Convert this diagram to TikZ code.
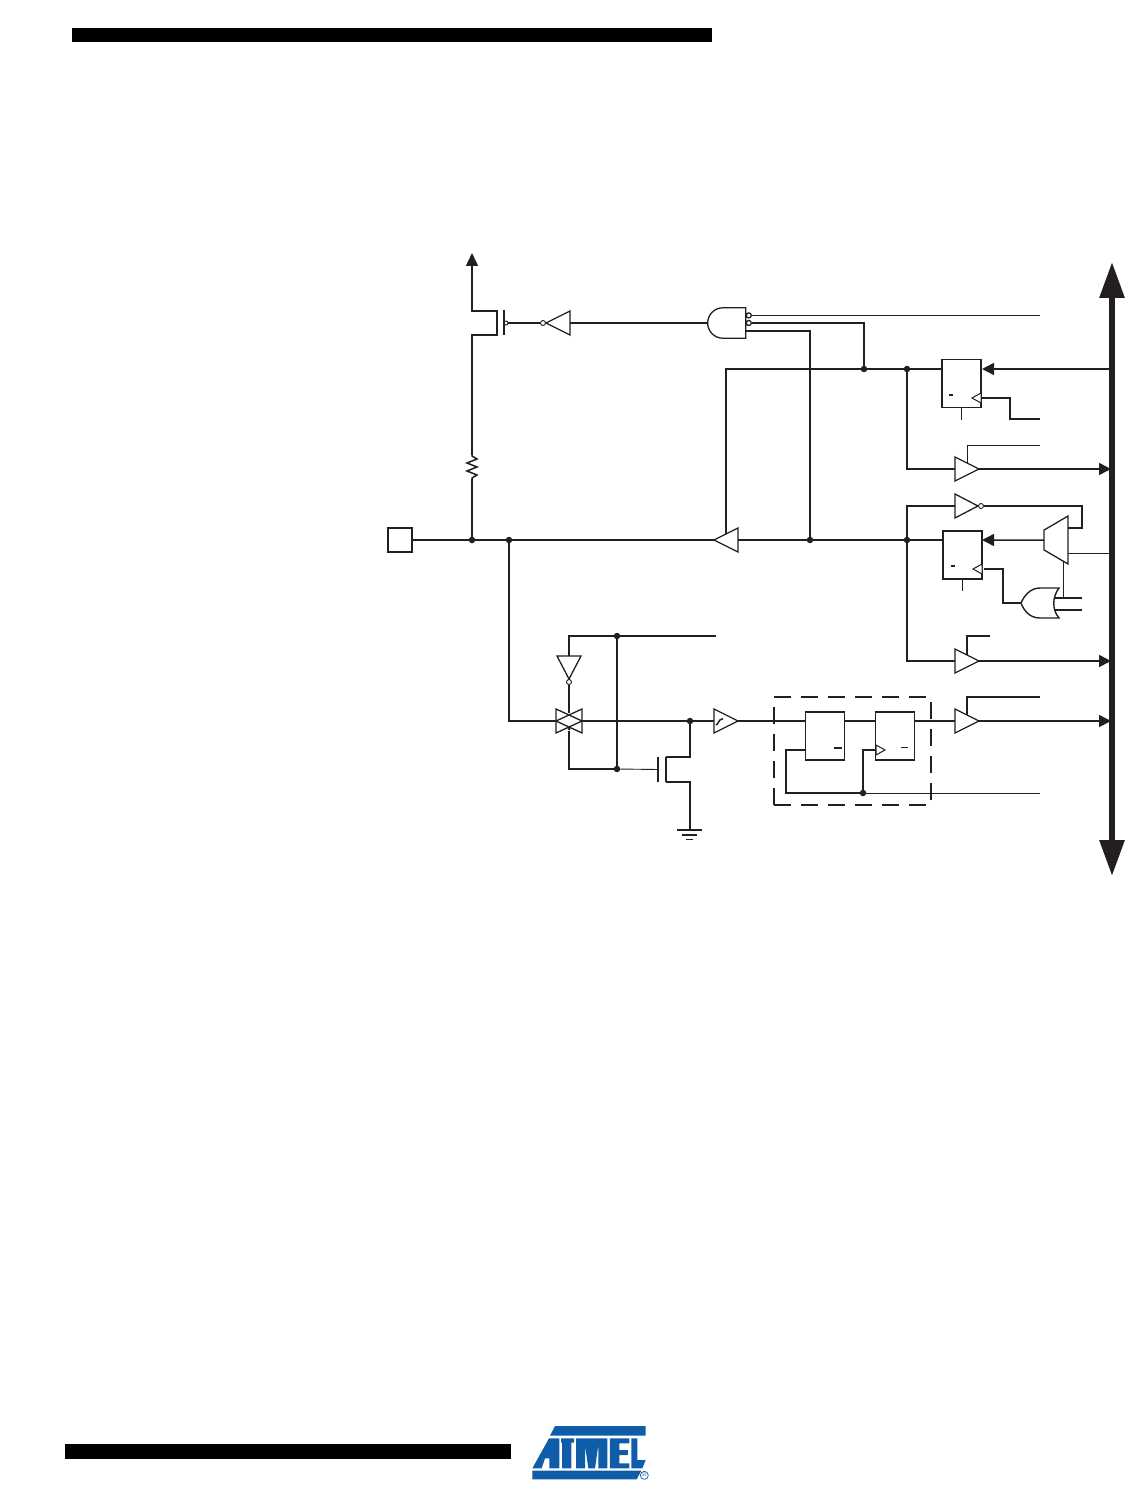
\documentclass[tikz,border=0pt]{standalone}
\usetikzlibrary{arrows.meta,shapes.geometric,shapes.gates.logic.US}
\definecolor{ink}{HTML}{231F20}
\definecolor{atmelblue}{HTML}{0F5CA8}
\tikzset{
  wire/.style={draw=ink,line width=1.5pt},
  thin wire/.style={draw=ink,line width=0.9pt},
  to bus/.style={wire,-{Triangle[length=12pt,width=12pt]}},
  buf/.style={draw=ink,line width=1.3pt,isosceles triangle,isosceles triangle stretches,inner sep=0,outer sep=0,minimum width=24pt,minimum height=24pt},
  clk/.style={buf,fill=white,line width=1pt,minimum width=10pt,minimum height=9pt},
  ff/.style={draw=ink,line width=1.3pt,rectangle,inner sep=0,outer sep=0,minimum width=39pt,minimum height=48pt},
  qbar/.style={rectangle,fill=ink,inner sep=0,minimum width=4pt,minimum height=1.4pt},
  dot/.style={circle,fill=ink,inner sep=0,minimum size=6.5pt},
  bubble/.style={circle,draw=ink,fill=white,line width=0.9pt,inner sep=0,minimum size=5pt},
  bar/.style={rectangle,fill=black,inner sep=0}
}
\begin{document}
\begin{tikzpicture}[x=1pt,y=-1pt]
    \useasboundingbox (0,0) rectangle (1143,1487);
    \node[bar,minimum width=640pt,minimum height=14pt] (topbar) at (392,35) {};
    \node[bar,minimum width=446pt,minimum height=15pt] (botbar) at (288,1451.5) {};

    \node[draw=ink,line width=1.3pt,dash pattern=on 17pt off 10pt,rectangle,inner sep=0,minimum width=157pt,minimum height=108pt] (sync) at (852.5,751) {};

    \node[draw=ink,line width=1.3pt,rectangle,inner sep=0,outer sep=0,minimum size=24pt] (pad) at (400,540) {};
    \node[dot] (jpad) at (472,540) {};
    \node[dot] (jin) at (509,540) {};
    \node[dot] (jen) at (810,540) {};
    \node[dot] (jout) at (907,540) {};
    \node[dot] (jnand) at (864,369) {};
    \node[dot] (jrd) at (907,369) {};
    \node[dot] (jsl) at (617,636) {};
    \node[dot] (jsg) at (617,769) {};
    \node[dot] (jdr) at (690,721) {};
    \node[dot] (jck) at (863,793) {};

    \coordinate (bustop) at (1112,262);
    \coordinate (busbot) at (1112,876);
    \draw[draw=ink,line width=6pt,{Triangle[length=36pt,width=24pt]}-{Triangle[length=36pt,width=24pt]}] (bustop) -- (busbot);

    % pull-up
    \coordinate (rest) at (472,455);
    \coordinate (resb) at (472,479);
    \coordinate (vcc) at (472,253);
    \coordinate (pd) at (497,335);
    \coordinate (ps) at (497,311);
    \node[bubble,minimum size=4pt] (pg) at (506,323) {};
    \node[bar,fill=ink,minimum width=2pt,minimum height=25pt] (pplate) at (504,322.5) {};
    \node[bubble] (pinv) at (543,323) {};
    \node[buf,shape border rotate=180,anchor=apex] (binv) at (546,323) {};
    \node[and gate US,draw=ink,line width=1.3pt,rotate=180,logic gate inputs=nii,logic gate input sep=7.5pt,logic gate inverted radius=2.5pt,minimum width=38pt,minimum height=29pt,inner sep=0,anchor=output] (nand) at (707,323) {};

    \draw[wire] (pad.east) -- (jpad) -- (jin) -- (726,540);
    \draw[wire] (jpad) -- (resb);
    \draw[wire] (resb) -- ++(0,-1) -- ++(5,-3) -- ++(-10,-4) -- ++(10,-4) -- ++(-10,-4) -- ++(10,-4) -- ++(-5,-3) -- (rest);
    \draw[wire,-{Triangle[length=13pt,width=12pt]}] (rest) |- (pd) -- (ps) -| (vcc);
    \draw[wire] (pg) -- (pinv);
    \draw[wire] (binv.lower side) -- (nand.output);
    \draw[thin wire] (nand.input 3) -- ++(288,0);
    \draw[wire] (nand.input 2) -| (jnand);
    \draw[wire,line width=1.8pt] (nand.input 1) -| (jen);

    % output latch
    \node[ff] (ddr) at (961.5,383.5) {};
    \node[qbar] (ddrq) at (951,395) {};
    \node[clk,shape border rotate=180,anchor=apex] (ddrck) at (972,398) {};
    \node[buf,shape border rotate=180,anchor=apex,fill=white] (bdrv) at (714,540) {};
    \draw[wire] (bdrv.lower side) -- (jen) -- (jout) -- (943,540);
    \draw[wire] (bdrv.right side) |- (jnand) -- (jrd) -- (942,369);
    \draw[to bus] (1112,369) -- (982,369);
    \draw[wire] (ddrck.lower side) -- (1010,398) |- (1040,419);
    \draw[thin wire] (ddr.south) ++(0,0) -- ++(0,12);

    \node[buf,anchor=lower side] (brd) at (955,469) {};
    \draw[wire] (jrd) |- (brd.lower side);
    \draw[to bus] (brd.apex) -- (1111,469);
    \draw[thin wire] (brd.left side) |- (1040,445);

    % port latch
    \node[buf,anchor=lower side,minimum height=23pt] (btog) at (955,506) {};
    \node[bubble] (btogb) at (981,506) {};
    \node[ff] (port) at (962.5,555) {};
    \node[qbar] (portq) at (953,566) {};
    \node[clk,shape border rotate=180,anchor=apex] (portck) at (973,569) {};
    \node[trapezium,draw=ink,line width=1.3pt,shape border rotate=90,trapezium stretches=true,inner sep=0,outer sep=0,minimum width=48pt,minimum height=24pt] (mux) at (1056,540) {\phantom{x}};
    \coordinate (orout) at (1021,603);
    \coordinate (orina) at (1054,598);
    \coordinate (orinb) at (1054,610);
    \draw[line width=1.4pt,draw=ink] (1059,588) -- (1040,588) .. controls (1030,588) and (1024,596) .. (orout) .. controls (1024,611) and (1030,618) .. (1040,618) -- (1059,618) .. controls (1052,610) and (1052,597) .. (1059,588) -- cycle;
    \draw[wire] (jout) |- (btog.lower side);
    \draw[wire] (btogb) -- (1082,506) |- (1068,528);
    \draw[to bus] (mux.west) -- (982,540);
    \draw[thin wire] (1068,553) -- (1112,553);
    \draw[thin wire] (1063,561) -- (1063,598);
    \draw[wire] (orina) -- (1082,598);
    \draw[wire] (orinb) -- (1082,610);
    \draw[wire] (orout) -- (1003,603) |- (984,569);
    \draw[wire] (port.south) -- ++(0,12);

    \node[buf,anchor=lower side] (bpin) at (955,661) {};
    \draw[wire] (jout) |- (bpin.lower side);
    \draw[to bus] (bpin.apex) -- (1111,661);
    \draw[wire] (bpin.left side) |- (990,636);

    % input path
    \node[buf,anchor=lower side,minimum height=26pt] (tga) at (556,721) {};
    \node[buf,anchor=lower side,shape border rotate=180,minimum height=26pt] (tgb) at (582,721) {};
    \node[buf,anchor=lower side,shape border rotate=270,minimum height=23pt] (bslp) at (569,656) {};
    \node[bubble] (bslpb) at (569,682) {};
    \node[circle,fill=ink,inner sep=0,minimum size=3pt] (tgc) at (569,729) {};
    \node[buf,anchor=lower side] (bst) at (714,721) {};
    \draw[wire] (jin) |- (tga.lower side);
    \draw[wire] (bslpb) -- (569,713);
    \draw[wire] (bslp.lower side) |- (jsl) -- (716,636);
    \draw[wire] (jsl) -- (jsg);
    \draw[wire] (tgc) |- (jsg);
    \draw[wire] (tgb.lower side) -- (jdr) -- (bst.lower side);
    \draw[line width=1.5pt,draw=ink] (716,725) .. controls (718.5,725) and (718,719) .. (723,718.7);

    \coordinate (nd) at (666,757);
    \coordinate (ns) at (666,782);
    \coordinate (gnd) at (690,830);
    \node[bar,fill=ink,minimum width=2pt,minimum height=25pt] (nplate) at (658,769.5) {};
    \draw[thin wire] (jsg) -- (nplate);
    \draw[wire] (jdr) |- (nd);
    \draw[wire] (nd) -- (ns);
    \draw[wire] (ns) -| (gnd);
    \node[bar,fill=ink,minimum width=25pt,minimum height=1.6pt] (gnda) at (689.5,830) {};
    \node[bar,fill=ink,minimum width=15pt,minimum height=1.3pt] (gndb) at (689.5,835) {};
    \node[bar,fill=ink,minimum width=7pt,minimum height=1pt] (gndc) at (689.5,839) {};

    % synchronizer
    \node[ff] (lat) at (825,736) {};
    \node[ff] (flop) at (895,736) {};
    \node[qbar,minimum width=8pt,minimum height=1.6pt] (latq) at (838,748) {};
    \node[qbar,minimum width=7pt,minimum height=1pt] (flopq) at (904.5,747) {};
    \node[clk,anchor=lower side] (flopck) at (876,750) {};
    \node[buf,anchor=lower side] (bin) at (955,721) {};
    \draw[wire] (bst.apex) -- (lat.west |- bst.apex);
    \draw[wire] (lat.east |- bst.apex) -- (flop.west |- bst.apex);
    \draw[wire] (flop.east |- bst.apex) -- (bin.lower side);
    \draw[to bus] (bin.apex) -- (1111,721);
    \draw[wire] (bin.left side) |- (1040,697);
    \draw[wire] (806,750) -- (786,750) |- (jck);
    \draw[thin wire] (jck) -- (1040,793);
    \draw[wire] (jck) |- (flopck.lower side);

    % logo
    \begin{scope}[shift={(500,1400)},x=0.3333pt,y=-0.3333pt]
      \fill[atmelblue] (165,78) -- (437,78) -- (437,107) -- (150,107) -- cycle;
      \fill[atmelblue] (97,212) -- (424,212) -- (410,238) -- (97,238) -- cycle;
      \fill[atmelblue] (97,205) -- (147,115) -- (178,115) -- (178,205) -- (148,205) -- (148,175) -- (135,175) -- (125,205) -- cycle;
      \fill[atmelblue] (183,115) -- (222,115) -- (222,128) -- (214,128) -- (214,205) -- (186,205) -- (186,128) -- (183,128) -- cycle;
      \fill[atmelblue] (228,115) -- (322,115) -- (322,205) -- (295,205) -- (295,135) -- (285,205) -- (265,205) -- (255,135) -- (255,205) -- (228,205) -- cycle;
      \fill[atmelblue] (330,115) -- (388,115) -- (388,130) -- (358,130) -- (358,150) -- (384,150) -- (384,165) -- (358,165) -- (358,190) -- (388,190) -- (388,205) -- (330,205) -- cycle;
      \fill[atmelblue] (394,115) -- (412,115) -- (412,180) -- (437,180) -- (427,205) -- (394,205) -- cycle;
      \node[circle,draw=atmelblue,line width=0.7pt,inner sep=0,minimum size=8pt,text=atmelblue,font=\fontsize{5}{5}\selectfont] (reg) at (433,226) {R};
    \end{scope}
\end{tikzpicture}
\end{document}
